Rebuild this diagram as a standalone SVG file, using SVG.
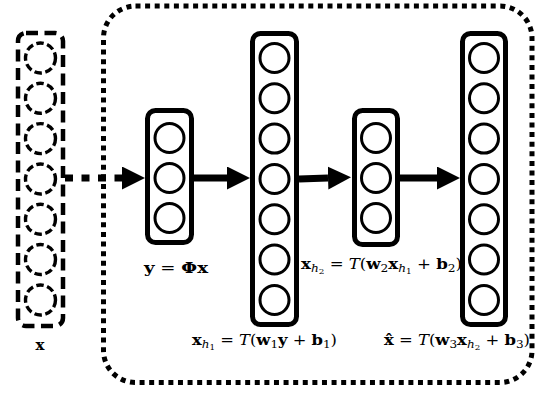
<svg xmlns="http://www.w3.org/2000/svg" width="543" height="394" viewBox="0 0 543 394">
<style>
.box{fill:none;stroke:#000;stroke-width:5}
.neuron{fill:none;stroke:#000;stroke-width:3}
.dbox{fill:none;stroke:#000;stroke-width:4.5;stroke-dasharray:12 6.5}
.dneuron{fill:none;stroke:#000;stroke-width:3.4;stroke-dasharray:7.5 3.5}
.frame{fill:none;stroke:#000;stroke-width:5}
.lbl{font-family:"DejaVu Serif","Liberation Serif",serif;font-size:15px;font-weight:bold;fill:#000}
.n{font-weight:normal}
.it{font-style:italic;font-weight:normal}
.cal{font-style:italic;font-weight:normal}
.conn{stroke:#000;stroke-width:7;fill:none}
</style>
<defs>
<marker id="ah" markerUnits="userSpaceOnUse" markerWidth="24" markerHeight="24" refX="0" refY="11.5" orient="auto">
<path d="M0,0 L23,11.5 L0,23 Z" fill="#000"/>
</marker>
</defs>
<g id="frame">
<rect class="frame" x="103.5" y="6" width="428.5" height="376.5" rx="32" stroke-dasharray="5 4.6"/>
</g>
<g id="connectors">
<line class="conn" x1="65" y1="178" x2="122" y2="178" stroke-dasharray="8 8.5" marker-end="url(#ah)"/>
<line class="conn" x1="194" y1="178" x2="227" y2="178" marker-end="url(#ah)"/>
<line class="conn" x1="299" y1="179" x2="328" y2="178" marker-end="url(#ah)"/>
<line class="conn" x1="399" y1="178" x2="437" y2="178" marker-end="url(#ah)"/>
</g>
<g id="input-x">
<rect class="dbox" x="18" y="33" width="45" height="293" rx="8"/>
<circle class="dneuron" cx="40.5" cy="58" r="15"/>
<circle class="dneuron" cx="40.5" cy="98.3" r="15"/>
<circle class="dneuron" cx="40.5" cy="138.6" r="15"/>
<circle class="dneuron" cx="40.5" cy="179" r="15"/>
<circle class="dneuron" cx="40.5" cy="219.2" r="15"/>
<circle class="dneuron" cx="40.5" cy="259.5" r="15"/>
<circle class="dneuron" cx="40.5" cy="300" r="15"/>
<text class="lbl" x="40" y="350" text-anchor="middle">x</text>
</g>
<g id="layer-y">
<rect class="box" x="147.5" y="110.5" width="44" height="132" rx="8"/>
<circle class="neuron" cx="169.5" cy="138" r="14.5"/>
<circle class="neuron" cx="169.5" cy="178" r="14.5"/>
<circle class="neuron" cx="169.5" cy="218" r="14.5"/>
<text class="lbl" x="144" y="273" textLength="64" lengthAdjust="spacingAndGlyphs">y<tspan class="n"> = </tspan>Φx</text>
</g>
<g id="layer-h1">
<rect class="box" x="252.5" y="33.5" width="44" height="291" rx="8"/>
<circle class="neuron" cx="274.5" cy="58" r="14.5"/>
<circle class="neuron" cx="274.5" cy="98.3" r="14.5"/>
<circle class="neuron" cx="274.5" cy="138.6" r="14.5"/>
<circle class="neuron" cx="274.5" cy="179" r="14.5"/>
<circle class="neuron" cx="274.5" cy="219.2" r="14.5"/>
<circle class="neuron" cx="274.5" cy="259.5" r="14.5"/>
<circle class="neuron" cx="274.5" cy="300" r="14.5"/>
<text class="lbl" x="192" y="345" textLength="145" lengthAdjust="spacingAndGlyphs">x<tspan class="it" font-size="11" dy="3">h</tspan><tspan class="n" font-size="8" dy="1.5">1</tspan><tspan class="n" dy="-4.5"> = </tspan><tspan class="cal">T</tspan><tspan class="n">(</tspan>w<tspan font-size="11" dy="3" class="n">1</tspan><tspan dy="-3">y</tspan><tspan class="n"> + </tspan>b<tspan font-size="11" dy="3" class="n">1</tspan><tspan class="n" dy="-3">)</tspan></text>
</g>
<g id="layer-h2">
<rect class="box" x="354.5" y="110.5" width="43" height="134" rx="8"/>
<circle class="neuron" cx="376" cy="138" r="14.5"/>
<circle class="neuron" cx="376" cy="178" r="14.5"/>
<circle class="neuron" cx="376" cy="218" r="14.5"/>
<text class="lbl" x="301" y="269" textLength="161" lengthAdjust="spacingAndGlyphs">x<tspan class="it" font-size="11" dy="3">h</tspan><tspan class="n" font-size="8" dy="1.5">2</tspan><tspan class="n" dy="-4.5"> = </tspan><tspan class="cal">T</tspan><tspan class="n">(</tspan>w<tspan font-size="11" dy="3" class="n">2</tspan><tspan dy="-3">x</tspan><tspan class="it" font-size="11" dy="3">h</tspan><tspan class="n" font-size="8" dy="1.5">1</tspan><tspan class="n" dy="-4.5"> + </tspan>b<tspan font-size="11" dy="3" class="n">2</tspan><tspan class="n" dy="-3">)</tspan></text>
</g>
<g id="layer-out">
<rect class="box" x="462.5" y="33.5" width="43" height="291" rx="8"/>
<circle class="neuron" cx="484" cy="58" r="14.5"/>
<circle class="neuron" cx="484" cy="98.3" r="14.5"/>
<circle class="neuron" cx="484" cy="138.6" r="14.5"/>
<circle class="neuron" cx="484" cy="179" r="14.5"/>
<circle class="neuron" cx="484" cy="219.2" r="14.5"/>
<circle class="neuron" cx="484" cy="259.5" r="14.5"/>
<circle class="neuron" cx="484" cy="300" r="14.5"/>
<text class="lbl" x="384" y="345" textLength="146" lengthAdjust="spacingAndGlyphs">x̂<tspan class="n"> = </tspan><tspan class="cal">T</tspan><tspan class="n">(</tspan>w<tspan font-size="11" dy="3" class="n">3</tspan><tspan dy="-3">x</tspan><tspan class="it" font-size="11" dy="3">h</tspan><tspan class="n" font-size="8" dy="1.5">2</tspan><tspan class="n" dy="-4.5"> + </tspan>b<tspan font-size="11" dy="3" class="n">3</tspan><tspan class="n" dy="-3">)</tspan></text>
</g>
</svg>
